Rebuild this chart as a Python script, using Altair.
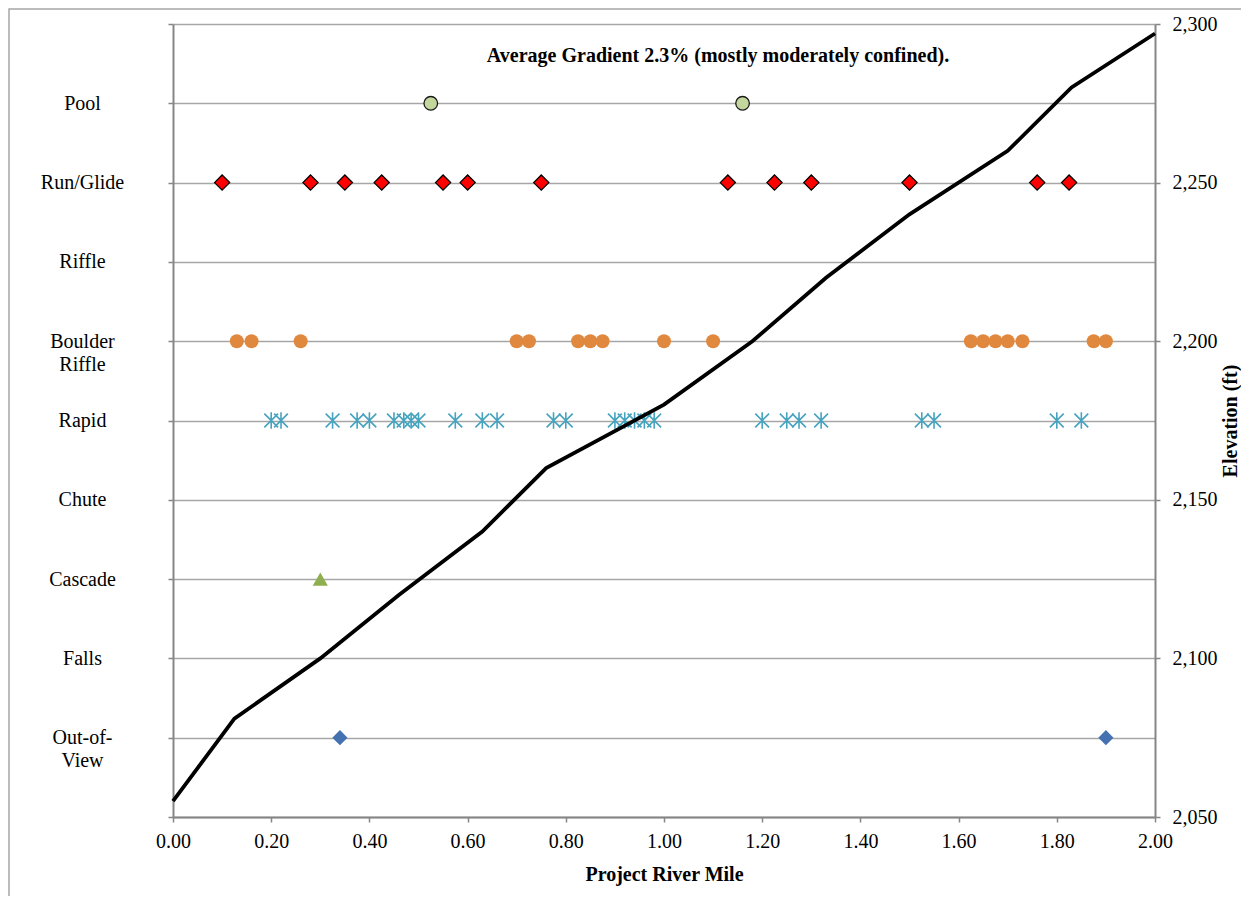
import json
import altair as alt
import pandas as pd

# ---------------- data ----------------
categories = ["Pool", "Run/Glide", "Riffle", "Boulder Riffle", "Rapid",
              "Chute", "Cascade", "Falls", "Out-of-View"]
category_labels = [["Pool"], ["Run/Glide"], ["Riffle"], ["Boulder", "Riffle"], ["Rapid"],
                   ["Chute"], ["Cascade"], ["Falls"], ["Out-of-", "View"]]

pool_miles = [0.525, 1.16]
run_glide_miles = [0.10, 0.28, 0.35, 0.425, 0.55, 0.60, 0.75, 1.13, 1.225, 1.30, 1.50, 1.76, 1.825]
boulder_riffle_miles = [0.13, 0.16, 0.26, 0.70, 0.725, 0.825, 0.85, 0.875, 1.00, 1.10,
                        1.625, 1.65, 1.675, 1.70, 1.73, 1.875, 1.90]
rapid_miles = [0.20, 0.22, 0.325, 0.375, 0.40, 0.45, 0.47, 0.485, 0.50, 0.575, 0.63, 0.66,
               0.775, 0.80, 0.90, 0.92, 0.94, 0.96, 0.98, 1.20, 1.25, 1.275, 1.32,
               1.525, 1.55, 1.80, 1.85]
cascade_miles = [0.30]
out_of_view_miles = [0.34, 1.90]

profile_miles = [0.00, 0.125, 0.30, 0.46, 0.63, 0.76, 1.00, 1.18, 1.33, 1.50, 1.70, 1.83, 2.00]
profile_elev = [2055, 2081, 2100, 2120, 2140, 2160, 2180, 2200, 2220, 2240, 2260, 2280, 2297]

x_ticks = [0.0, 0.2, 0.4, 0.6, 0.8, 1.0, 1.2, 1.4, 1.6, 1.8, 2.0]
elev_ticks = [2050, 2100, 2150, 2200, 2250, 2300]

note_text = "Average Gradient 2.3% (mostly moderately confined)."
note_mile = 1.11
note_elev = 2288

# ---------------- build tables ----------------
series = {
    "Pool": pool_miles,
    "Run/Glide": run_glide_miles,
    "Boulder Riffle": boulder_riffle_miles,
    "Rapid": rapid_miles,
    "Cascade": cascade_miles,
    "Out-of-View": out_of_view_miles,
}
rows = []
for name, miles in series.items():
    level = len(categories) - categories.index(name)
    for m in miles:
        rows.append({"type": name, "mile": m, "level": level})
pts = pd.DataFrame(rows)
profile = pd.DataFrame({"mile": profile_miles, "elev": profile_elev})

label_arr = [[""]] + [category_labels[len(categories) - i] for i in range(1, len(categories) + 1)] + [[""]]
label_expr = json.dumps(label_arr) + "[datum.value]"

FONT = "Liberation Serif"
GRID = "#a6a6a6"
AXISC = "#868686"
W, H = 982, 793

x_enc = alt.X("mile:Q",
              scale=alt.Scale(domain=[0, 2], nice=False, zero=False),
              axis=alt.Axis(values=x_ticks, format=".2f", title="Project River Mile",
                            orient="bottom", grid=False, tickSize=5, labelPadding=9,
                            titleY=63, titleBaseline="alphabetic"))

y_level = alt.Y("level:Q",
                scale=alt.Scale(domain=[0, 10], nice=False, zero=False),
                axis=alt.Axis(orient="left", values=list(range(0, 11)), labelExpr=label_expr,
                              title=None, grid=True, gridColor=GRID, gridWidth=1.5,
                              tickSize=5, labelAlign="center", labelPadding=86,
                              labelLineHeight=23, labelBaseline="middle"))


def pts_layer(name, **mark):
    return (alt.Chart(pts).transform_filter(alt.datum.type == name)
            .mark_point(**mark).encode(x=x_enc, y=y_level))


star = "M-1,-1L1,1M-1,1L1,-1M0,-1.2L0,1.2"

points = alt.layer(
    pts_layer("Boulder Riffle", shape="circle", filled=True, fill="#e0883e", size=195,
              stroke=None, opacity=1),
    pts_layer("Rapid", shape=star, filled=False, stroke="#46a3bf", strokeWidth=1.6, size=190,
              opacity=1),
    pts_layer("Pool", shape="circle", filled=True, fill="#c3d69b", stroke="#1a1a1a",
              strokeWidth=1.3, size=185, opacity=1),
    pts_layer("Run/Glide", shape="diamond", filled=True, fill="#ff0000", stroke="#000000",
              strokeWidth=1.3, size=230, opacity=1),
    pts_layer("Cascade", shape="triangle-up", filled=True, fill="#8fae4f", size=230,
              stroke=None, opacity=1),
    pts_layer("Out-of-View", shape="diamond", filled=True, fill="#4472b0", size=230,
              stroke=None, opacity=1),
)

y_elev_axis = alt.Axis(orient="right", values=elev_ticks, labelExpr="format(datum.value, ',')",
                       title="Elevation (ft)",
                       grid=False, tickSize=5, labelPadding=12, titleAngle=270,
                       titleX=75, titleY=H / 2, titleAlign="center", titleBaseline="middle")
y_elev_scale = alt.Scale(domain=[2050, 2300], nice=False, zero=False)

line = alt.Chart(profile).mark_line(color="#000000", strokeWidth=3.8).encode(
    x=x_enc, y=alt.Y("elev:Q", scale=y_elev_scale, axis=y_elev_axis))

note = alt.Chart(pd.DataFrame({"t": [note_text], "mile": [note_mile], "elev": [note_elev]})).mark_text(
    font=FONT, fontSize=20, fontWeight="bold", color="#000000", align="center",
    baseline="alphabetic").encode(
    x=alt.X("mile:Q", scale=alt.Scale(domain=[0, 2], nice=False, zero=False)),
    y=alt.Y("elev:Q", scale=y_elev_scale, axis=y_elev_axis), text="t:N")

frame = alt.Chart(alt.Data(values=[{}])).mark_rect(
    fill=None, stroke="#a6a6a6", strokeWidth=1.5).encode(
    x=alt.value(-164), x2=alt.value(W + 200), y=alt.value(-15), y2=alt.value(H + 200))

right_layer = alt.layer(line, note, frame)

chart = (alt.layer(points, right_layer)
         .resolve_scale(y="independent")
         .properties(width=W, height=H,
                     autosize=alt.AutoSizeParams(type="none"),
                     padding={"left": 165, "top": 16, "right": 86, "bottom": 79})
         .configure_view(stroke=None)
         .configure_axis(labelFont=FONT, titleFont=FONT, labelFontSize=20, titleFontSize=20,
                         titleFontWeight="bold", labelColor="#000000", titleColor="#000000",
                         domainColor=AXISC, domainWidth=2, tickColor=AXISC, tickWidth=1.5,
                         labelFlush=False, labelOverlap=False))

chart.save("out.html", embed_options={"renderer": "svg", "actions": False})
